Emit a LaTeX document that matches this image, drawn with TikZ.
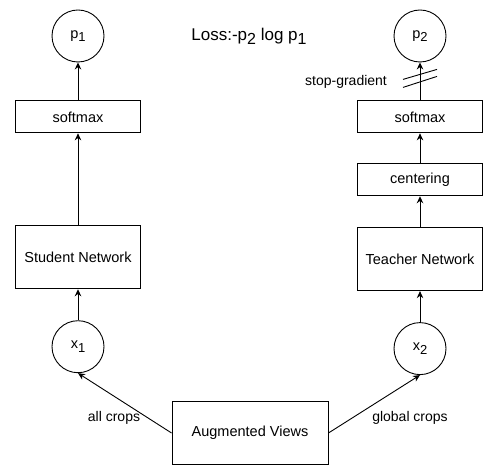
\documentclass[tikz,border=0pt]{standalone}
\usepackage{fontspec}
\setmainfont{Liberation Sans}
\usetikzlibrary{positioning,arrows.meta,calc}

\newcommand{\sbs}[1]{\raisebox{-0.45ex}{\fontsize{13bp}{13bp}\selectfont #1}}

\tikzset{
  box/.style={draw, line width=0.9bp, minimum width=125bp, minimum height=32bp,
    inner sep=0pt, font=\fontsize{14.5bp}{17bp}\selectfont},
  netbox/.style={box, minimum height=63bp},
  circ/.style={draw, circle, line width=0.9bp, minimum size=52bp, inner sep=0pt,
    font=\fontsize{14.5bp}{17bp}\selectfont},
  arr/.style={-{Stealth[length=7bp,width=6.5bp]}, line width=0.9bp},
  lbl/.style={font=\fontsize{14bp}{17bp}\selectfont}
}

\begin{document}
\begin{tikzpicture}[x=1bp, y=-1bp]
  \useasboundingbox (0,0) rectangle (484,465);

  % student side
  \node[circ] (p1) at (78,36) {p\sbs{1}};
  \node[box, below=38bp of p1] (smL) {softmax};
  \node[netbox, below=92bp of smL] (student) {Student Network};
  \node[circ, below=31bp of student] (x1) {x\sbs{1}};

  % teacher side
  \node[circ] (p2) at (420,36) {p\sbs{2}};
  \node[box, below=38bp of p2] (smR) {softmax};
  \node[box, below=30bp of smR] (center) {centering};
  \node[netbox, below=31bp of center] (teacher) {Teacher Network};
  \node[circ, below=31bp of teacher] (x2) {x\sbs{2}};

  \node[netbox, minimum width=156bp] (aug) at (250,433) {Augmented Views};
  \node[font=\fontsize{17bp}{20bp}\selectfont] (loss) at (249,36)
    {Loss:-p\raisebox{-0.45ex}{\fontsize{16bp}{16bp}\selectfont 2} log p\raisebox{-0.45ex}{\fontsize{16bp}{16bp}\selectfont 1}};

  % connectors
  \draw[arr] (aug.west) -- (x1.south);
  \draw[arr] (aug.east) -- (x2.south);
  \node[lbl] (allc) at (114,418) {all crops};
  \node[lbl] (globc) at (410,418) {global crops};

  \draw[arr] (x1) -- (student);
  \draw[arr] (student) -- (smL);
  \draw[arr] (smL) -- (p1);

  \draw[arr] (x2) -- (teacher);
  \draw[arr] (teacher) -- (center);
  \draw[arr] (center) -- (smR);
  \draw[arr] (smR) -- (p2);

  % stop-gradient
  \coordinate (sg) at ($(smR.north)!0.58!(p2.south)$);
  \draw[line width=0.9bp] ($(sg)+(-17,1)$) -- ($(sg)+(17,-9)$);
  \draw[line width=0.9bp] ($(sg)+(-17,9)$) -- ($(sg)+(17,-2)$);
  \node[lbl] (sgl) at (346,82) {stop-gradient};
\end{tikzpicture}
\end{document}
